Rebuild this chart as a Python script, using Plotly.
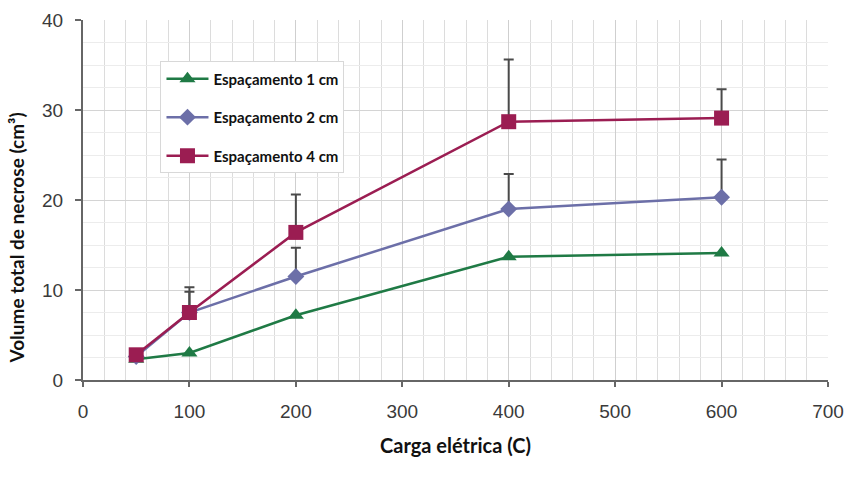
import plotly.graph_objects as go

x_vals = [50, 100, 200, 400, 600]
names = ["Espaçamento 1 cm", "Espaçamento 2 cm", "Espaçamento 4 cm"]
y_1cm = [2.3, 3.0, 7.2, 13.7, 14.1]
y_2cm = [2.6, 7.5, 11.5, 19.0, 20.3]
y_4cm = [2.8, 7.5, 16.4, 28.7, 29.1]
err_1cm = [0.3, 0.6, 1.5, 2.8, 2.3]
err_2cm = [0.4, 2.3, 3.2, 3.9, 4.2]
err_4cm = [0.4, 2.8, 4.2, 6.9, 3.2]

colors = ["#1f7a45", "#6c6fa8", "#9b1d52"]
symbols = ["triangle-up", "diamond", "square"]
sizes = [14, 13, 15]
err_colors = ["rgba(255,255,255,0)", "#4a4a4a", "#4a4a4a"]

fig = go.Figure()
for i, (name, ys, errs, c, s, sz, ec) in enumerate(zip(names, [y_1cm, y_2cm, y_4cm],
                                       [err_1cm, err_2cm, err_4cm],
                                       colors, symbols, sizes, err_colors)):
    fig.add_trace(go.Scatter(
        x=x_vals, y=ys, name=name, mode="lines+markers", legendgroup=f"g{i}",
        line=dict(color=c, width=2.5),
        marker=dict(symbol=s, size=sz, color=c),
        error_y=dict(type="data", array=errs, arrayminus=[0]*len(errs),
                     symmetric=False, color=ec, thickness=2, width=5),
    ))

fig.update_layout(
    width=848, height=477,
    margin=dict(l=83, r=20, t=20, b=97),
    paper_bgcolor="white", plot_bgcolor="white",
    showlegend=True,
    legend=dict(x=0.104, y=0.885, xanchor="left", yanchor="top",
                bgcolor="white", bordercolor="#d8d8d8", borderwidth=1,
                font=dict(family="Lato", size=15, color="#111", weight="bold"),
                tracegroupgap=16, itemwidth=42),
    font=dict(family="Liberation Sans", color="#444"),
    xaxis=dict(range=[0, 700], dtick=100, tick0=0, automargin=False,
               showline=True, linecolor="#666", linewidth=2,
               ticks="outside", ticklen=5, tickcolor="#666", tickwidth=2,
               ticklabelstandoff=8,
               showgrid=True, gridcolor="#cfcfcf", gridwidth=1,
               minor=dict(dtick=20, showgrid=True, gridcolor="#dcdcdc", gridwidth=1),
               tickfont=dict(family="Liberation Sans", size=19, color="#3a3a3a"),
               title=dict(text="Carga elétrica (C)", standoff=18,
                          font=dict(family="Lato", size=20, color="#111", weight="bold")),
               zeroline=False),
    yaxis=dict(range=[0, 40], dtick=10, tick0=0, automargin=False,
               showline=True, linecolor="#666", linewidth=2,
               ticks="outside", ticklen=6, tickcolor="#666", tickwidth=2,
               ticklabelstandoff=8,
               showgrid=True, gridcolor="#d4d4d4", gridwidth=1,
               minor=dict(dtick=2.5, showgrid=True, gridcolor="#ececec", gridwidth=1),
               tickfont=dict(family="Liberation Sans", size=19, color="#3a3a3a"),
               zeroline=False),
    annotations=[dict(text="Volume total de necrose (cm³)", textangle=-90,
                      xref="paper", yref="paper", x=-0.089, y=0.395,
                      xanchor="center", yanchor="middle", showarrow=False,
                      font=dict(family="Lato", size=19, color="#111", weight="bold"))],
)

fig.write_html("out.html")
